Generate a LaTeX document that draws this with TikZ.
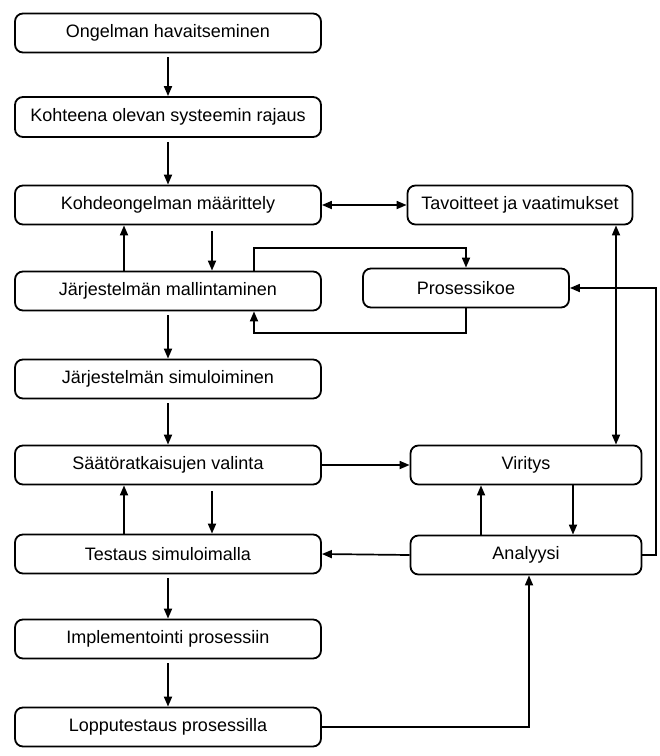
\documentclass[tikz,border=0pt]{standalone}
\usepackage{fontspec}
\setmainfont{Liberation Sans}
\usetikzlibrary{arrows.meta}
\begin{document}
\begin{tikzpicture}[x=1pt,y=-1pt,
  box/.style={draw, line width=1.8pt, rounded corners=8pt, minimum height=39pt,
    inner sep=0pt, font=\fontsize{18}{21}\selectfont},
  lbox/.style={box, minimum width=306pt},
  link/.style={line width=1.7pt},
  arr/.style={link, -{Triangle[length=10pt,width=8pt]}},
  darr/.style={link, {Triangle[length=10pt,width=8pt]}-{Triangle[length=10pt,width=8pt]}}]
\useasboundingbox (0,0) rectangle (660,756);

% main column
\node[lbox] (b1) at (168,33)  {Ongelman havaitseminen};
\node[lbox, minimum height=40pt] (b2) at (168,117) {Kohteena olevan systeemin rajaus};
\node[lbox] (b3) at (168,205) {Kohdeongelman määrittely};
\node[lbox] (b4) at (168,291) {Järjestelmän mallintaminen};
\node[lbox] (b5) at (168,379) {Järjestelmän simuloiminen};
\node[lbox] (b6) at (168,465) {Säätöratkaisujen valinta};
\node[lbox] (b7) at (168,554) {Testaus simuloimalla};
\node[lbox] (b8) at (168,639) {Implementointi prosessiin};
\node[lbox] (b9) at (168,727) {Lopputestaus prosessilla};

% side column
\node[box, minimum width=225pt] (tv) at (520,205) {Tavoitteet ja vaatimukset};
\node[box, minimum width=206pt] (pk) at (466,288) {Prosessikoe};
\node[box, minimum width=231pt] (vi) at (526,465) {Viritys};
\node[box, minimum width=231pt] (an) at (526,555) {Analyysi};

% straight downward flow
\draw[arr, shorten <=4pt] (b1) -- (b2);
\draw[arr, shorten <=4pt] (b2) -- (b3);
\draw[arr, shorten <=4pt] (b4) -- (b5);
\draw[arr, shorten <=4pt] (b5) -- (b6);
\draw[arr, shorten <=4pt] (b7) -- (b8);
\draw[arr, shorten <=4pt] (b8) -- (b9);

% feedback pairs
\draw[arr] (124,0 |- b4.north) -- (124,0 |- b3.south);
\draw[arr, shorten <=6pt] (212,0 |- b3.south) -- (212,0 |- b4.north);
\draw[arr] (124,0 |- b7.north) -- (124,0 |- b6.south);
\draw[arr, shorten <=6pt] (212,0 |- b6.south) -- (212,0 |- b7.north);
\draw[arr] (481,0 |- an.north) -- (481,0 |- vi.south);
\draw[arr] (573,0 |- vi.south) -- (573,0 |- an.north);

% horizontal links
\draw[darr] (b3.east) -- (tv.west);
\draw[arr] (b6.east) -- (vi.west);
\draw[arr] (an.west) -- (b7.east);

% modelling loop with the process experiment
\draw[arr] (254,0 |- b4.north) -- (254,248) -- (466,248) -- (pk.north);
\draw[arr] (pk.south) -- (466,333) -- (254,333) -- (254,0 |- b4.south);

% goals and tuning
\draw[darr] (616,0 |- tv.south) -- (616,0 |- vi.north);

% analysis back to the process experiment
\draw[arr] (an.east) -- (656,555) -- (656,288) -- (pk.east);

% final testing to analysis
\draw[arr] (b9.east) -- (529,727) -- (529,0 |- an.south);
\end{tikzpicture}
\end{document}
